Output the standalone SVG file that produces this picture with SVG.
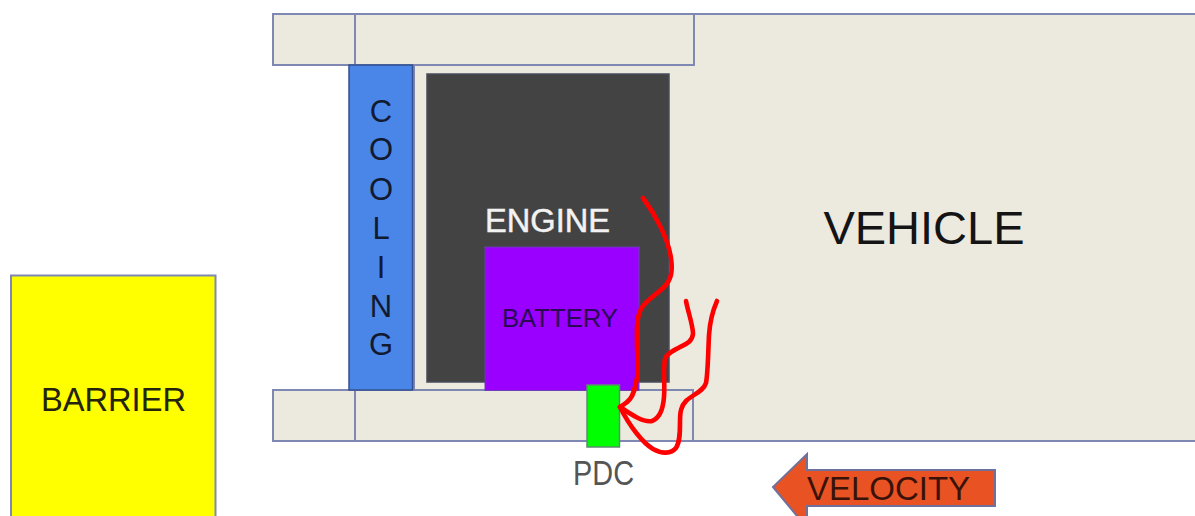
<svg xmlns="http://www.w3.org/2000/svg" width="1195" height="516" viewBox="0 0 1195 516">
<defs><style>
text{font-family:"Liberation Sans",Arial,sans-serif;text-anchor:middle}
.b{fill:#ece9df;stroke:#7f88b3;stroke-width:2}
.w{fill:none;stroke:#ff0000;stroke-width:4.600;stroke-linecap:round;stroke-linejoin:round}
</style></defs>
<rect width="1195" height="516" fill="#fff"/>
<g id="vehicle"><rect class="b" x="414" y="14" width="790" height="427"/>
<text x="924" y="244" font-size="47" fill="#141414">VEHICLE</text></g>
<g id="rail-top"><rect class="b" x="273" y="14" width="421" height="51"/><line x1="355" y1="14" x2="355" y2="65" stroke="#7f88b3" stroke-width="2"/></g>
<g id="rail-bottom"><rect class="b" x="273" y="390" width="420" height="51"/><line x1="355" y1="390" x2="355" y2="441" stroke="#7f88b3" stroke-width="2"/></g>
<g id="cooling"><rect x="349" y="65" width="63.500" height="325" fill="#4a86e8" stroke="#34508f" stroke-width="1.500"/>
<g font-size="31" fill="#121a30"><text x="381" y="122">C</text><text x="381" y="160">O</text><text x="381" y="200">O</text><text x="381" y="239">L</text><text x="381" y="278">I</text><text x="381" y="317">N</text><text x="381" y="355">G</text></g></g>
<g id="engine"><rect x="427" y="74" width="242" height="308" fill="#434343" stroke="#474b5c" stroke-width="1.500"/>
<text x="547.500" y="232" font-size="33" fill="#f2f2f2" stroke="#f2f2f2" stroke-width="0.500" textLength="125" lengthAdjust="spacingAndGlyphs">ENGINE</text></g>
<g id="battery"><rect x="485" y="247" width="154" height="143.500" fill="#9900ff" stroke="#6a3fb0" stroke-width="1"/>
<text x="560" y="327" font-size="26" fill="#2b0a55" textLength="116" lengthAdjust="spacingAndGlyphs">BATTERY</text></g>
<g id="barrier"><rect x="11" y="275.500" width="204.500" height="250" fill="#ffff00" stroke="#7f88b3" stroke-width="2"/>
<text x="113.500" y="411" font-size="33" fill="#24240c" textLength="145" lengthAdjust="spacingAndGlyphs">BARRIER</text></g>
<g id="pdc"><rect x="587" y="385" width="32.500" height="62" fill="#00ff00" stroke="#5f8a70" stroke-width="1.500"/>
<text x="603.500" y="485" font-size="35" fill="#555" textLength="61" lengthAdjust="spacingAndGlyphs">PDC</text></g>
<g id="velocity"><path d="M995 470V506H807V528L773 487L807 454V470Z" fill="#e95324" stroke="#70709c" stroke-width="2"/>
<text x="888.500" y="500" font-size="34" fill="#3a1208" textLength="163" lengthAdjust="spacingAndGlyphs">VELOCITY</text></g>
<g id="connectors">
<path class="w" d="M643 198C655 214 668 238 671 258C673 272 671 280 664 287C656 295 646 300 641 309C636 318 637 330 637 345C637 358 639 368 637 378C635 388 634 394 630 399C627 403 623 405 620 407"/>
<path class="w" d="M686 301C688 312 693 325 693 334C692 342 686 344 680 347C673 351 667 353 665 359C663 368 665 385 664 397C663 410 660 418 652 421C644 423 632 415 620 407"/>
<path class="w" d="M717 301C713 310 710 320 709 335C708 355 708 372 706 383C703 392 693 394 686 401C681 406 680 412 680 422C680 432 680 442 676 448C671 454 662 454 653 449C643 443 630 427 620 407"/>
</g>
</svg>
